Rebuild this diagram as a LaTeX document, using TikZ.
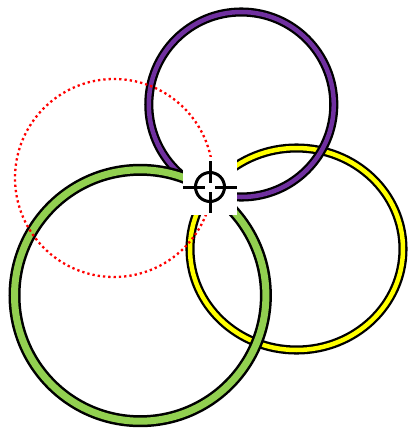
\documentclass[tikz,border=0pt]{standalone}
\definecolor{ringpurple}{HTML}{7030A0}
\definecolor{ringgreen}{HTML}{92D050}
\definecolor{ringyellow}{HTML}{FFFF00}
\tikzset{
  ring/.style={draw=black, line width=2.3pt, double=#1, double distance=4.5pt},
  fatring/.style={draw=black, line width=2.5pt, double=#1, double distance=7pt},
  reticle/.style={draw=black, line width=3pt}
}
\begin{document}
\begin{tikzpicture}[x=1pt, y=-1pt]
        \useasboundingbox (0,0) rectangle (413,429);

        % Rings, back to front
        \draw[ring=ringyellow] (296.5,249) ellipse (106.5 and 101);
        \draw[ring=ringpurple] (241.3,104.5) circle (92.5);
        \draw[fatring=ringgreen] (140.2,295.5) circle (125.7);

        % Dotted circle
        \draw[red, line width=2.3pt, dash pattern=on 2.3pt off 3pt] (114,178) circle (99);

        % Target mark on a white patch
        \coordinate (T) at (210,187);
        \fill[white] (183,157) rectangle (237,215);
        \draw[reticle] (T) circle (14.5);
        \draw[reticle] ([xshift=-27]T) -- ([xshift=-5]T);
        \draw[reticle] ([xshift=5]T) -- ([xshift=27]T);
        \draw[reticle] ([yshift=-25.5]T) -- ([yshift=-4.5]T);
        \draw[reticle] ([yshift=4.5]T) -- ([yshift=26]T);
    \end{tikzpicture}
\end{document}
